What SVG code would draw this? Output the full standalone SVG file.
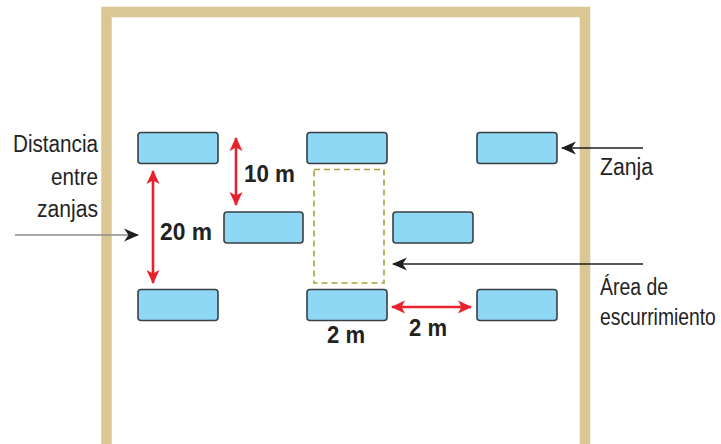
<svg xmlns="http://www.w3.org/2000/svg" width="721" height="444" viewBox="0 0 721 444">
  <style>
    .frame { fill: none; stroke: #dac794; stroke-width: 10.5; }
    .trench { fill: #8ed8f6; stroke: #3a3f44; stroke-width: 1.6; }
    .runoff { fill: none; stroke: #a8a23e; stroke-width: 1.6; stroke-dasharray: 6 4; }
    .dim { stroke: #e8222c; stroke-width: 2.6; fill: none; marker-start: url(#redHead); marker-end: url(#redHead); }
    .pointer { stroke: #1e1e1e; stroke-width: 1.6; fill: none; marker-end: url(#blackHead); }
    .pointer.grey { stroke: #8c8c8c; }
    .label { font-family: "Liberation Sans", Arial, sans-serif; font-size: 23px; fill: #232323; }
    .num { font-family: "Liberation Sans", Arial, sans-serif; font-size: 23px; font-weight: bold; fill: #222; }
  </style>
  <defs>
    <marker id="redHead" viewBox="0 0 15 15" refX="13" refY="7.5" markerWidth="15" markerHeight="15" markerUnits="userSpaceOnUse" orient="auto-start-reverse">
      <path d="M0,1 L14,7.5 L0,14 L3.5,7.5 Z" fill="#e8222c"/>
    </marker>
    <marker id="blackHead" viewBox="0 0 15 15" refX="14" refY="7.5" markerWidth="15" markerHeight="15" markerUnits="userSpaceOnUse" orient="auto">
      <path d="M0,1 L15,7.5 L0,14 L4.5,7.5 Z" fill="#1e1e1e"/>
    </marker>
  </defs>

  <rect width="721" height="444" fill="#ffffff"/>

  <!-- plot boundary -->
  <g id="plot">
    <rect class="frame" x="106.5" y="12" width="478.5" height="440"/>
  </g>

  <!-- runoff area between trenches -->
  <g id="runoff-area">
    <rect class="runoff" x="314" y="169.5" width="70" height="113.5"/>
  </g>

  <!-- trenches -->
  <g id="trench-1-1"><rect class="trench" x="138" y="132.5" width="80" height="31" rx="3"/></g>
  <g id="trench-1-2"><rect class="trench" x="307" y="132.5" width="80" height="31" rx="3"/></g>
  <g id="trench-1-3"><rect class="trench" x="477" y="132.5" width="80" height="31" rx="3"/></g>
  <g id="trench-2-1"><rect class="trench" x="224" y="212" width="79" height="31" rx="3"/></g>
  <g id="trench-2-2"><rect class="trench" x="393" y="212" width="80" height="31" rx="3"/></g>
  <g id="trench-3-1"><rect class="trench" x="138" y="289.5" width="80" height="31" rx="3"/></g>
  <g id="trench-3-2"><rect class="trench" x="307" y="289.5" width="80" height="31" rx="3"/></g>
  <g id="trench-3-3"><rect class="trench" x="477" y="289.5" width="80" height="31" rx="3"/></g>

  <!-- dimension arrows and pointers -->
  <g id="connectors">
    <line class="dim" x1="236" y1="138" x2="236" y2="205"/>
    <line class="dim" x1="153" y1="171" x2="153" y2="283"/>
    <line class="dim" x1="392" y1="307" x2="471" y2="307"/>
    <line class="pointer grey" x1="15" y1="235" x2="138" y2="235"/>
    <line class="pointer" x1="643" y1="148" x2="562" y2="148"/>
    <line class="pointer" x1="643" y1="264" x2="393" y2="264"/>
  </g>

  <!-- labels -->
  <g id="labels">
    <text class="label" x="13" y="152" textLength="85" lengthAdjust="spacingAndGlyphs">Distancia</text>
    <text class="label" x="51" y="185" textLength="47" lengthAdjust="spacingAndGlyphs">entre</text>
    <text class="label" x="37" y="217" textLength="61" lengthAdjust="spacingAndGlyphs">zanjas</text>
    <text class="label" x="600" y="175" textLength="53" lengthAdjust="spacingAndGlyphs">Zanja</text>
    <text class="label" x="600" y="295" textLength="68" lengthAdjust="spacingAndGlyphs">Área de</text>
    <text class="label" transform="translate(600 325) scale(0.84 1)" x="0" y="0">escurrimiento</text>
    <text class="num" x="244" y="182" textLength="51" lengthAdjust="spacingAndGlyphs">10 m</text>
    <text class="num" x="160" y="240" textLength="52" lengthAdjust="spacingAndGlyphs">20 m</text>
    <text class="num" x="327" y="343" textLength="38" lengthAdjust="spacingAndGlyphs">2 m</text>
    <text class="num" x="409" y="336" textLength="38" lengthAdjust="spacingAndGlyphs">2 m</text>
  </g>
</svg>
